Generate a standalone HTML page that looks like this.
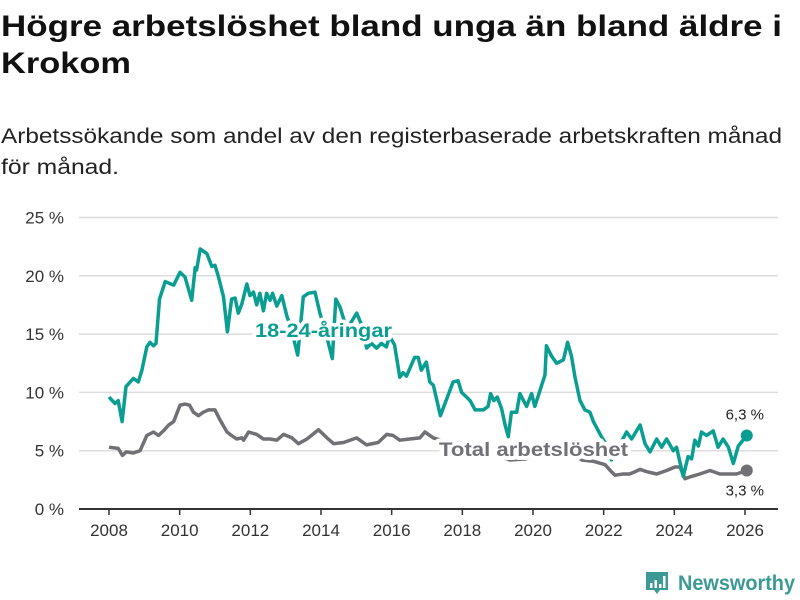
<!DOCTYPE html>
<html><head><meta charset="utf-8">
<style>
html,body{margin:0;padding:0;background:#fff;}
svg{display:block;font-family:"Liberation Sans",sans-serif;}
</style></head>
<body>
<svg id="chart" width="800" height="600" viewBox="0 0 800 600">
  <text x="1" y="36" font-size="30" font-weight="bold" fill="#111" textLength="781" lengthAdjust="spacingAndGlyphs">Högre arbetslöshet bland unga än bland äldre i</text>
  <text x="1" y="73" font-size="30" font-weight="bold" fill="#111" textLength="130" lengthAdjust="spacingAndGlyphs">Krokom</text>
  <text x="1" y="143" font-size="21" fill="#222" textLength="781" lengthAdjust="spacingAndGlyphs">Arbetssökande som andel av den registerbaserade arbetskraften månad</text>
  <text x="1" y="174" font-size="21" fill="#222" textLength="118" lengthAdjust="spacingAndGlyphs">för månad.</text>
  <g id="grid"></g>
  <g id="yticks"></g>
  <g id="xticks"></g>
  <g id="series"></g>
  <g>
    <path d="M646 572 h22 v18 h-8 l-3 4 l-3 -4 h-8 z" fill="#3b9a94"/>
    <rect x="650" y="583" width="2.5" height="5" fill="#fff"/>
    <rect x="654.5" y="580" width="2.5" height="8" fill="#fff"/>
    <rect x="659" y="584" width="2.5" height="4" fill="#fff"/>
    <rect x="663" y="576" width="2.5" height="12" fill="#fff"/>
    <text x="678" y="590" font-size="21" font-weight="bold" fill="#3b9a94" textLength="117" lengthAdjust="spacingAndGlyphs">Newsworthy</text>
  </g>
</svg>
<script>
const yTicks=[0,5,10,15,20,25];
const yTickLabels=["0 %","5 %","10 %","15 %","20 %","25 %"];
const xTicks=[2008,2010,2012,2014,2016,2018,2020,2022,2024,2026];
const youthDates=[2008.0,2008.17,2008.26,2008.37,2008.48,2008.69,2008.83,2008.93,2009.07,2009.16,2009.26,2009.33,2009.43,2009.59,2009.83,2010.01,2010.15,2010.34,2010.44,2010.48,2010.58,2010.77,2010.91,2011.0,2011.1,2011.24,2011.35,2011.47,2011.57,2011.66,2011.76,2011.9,2011.99,2012.09,2012.18,2012.27,2012.37,2012.46,2012.56,2012.63,2012.75,2012.89,2013.03,2013.17,2013.34,2013.5,2013.64,2013.83,2013.97,2014.11,2014.32,2014.42,2014.54,2014.73,2015.01,2015.15,2015.29,2015.43,2015.57,2015.71,2015.85,2015.94,2016.08,2016.23,2016.32,2016.42,2016.65,2016.75,2016.84,2016.98,2017.08,2017.18,2017.38,2017.74,2017.88,2017.98,2018.12,2018.22,2018.36,2018.59,2018.73,2018.8,2018.89,2018.99,2019.11,2019.21,2019.3,2019.39,2019.54,2019.63,2019.82,2019.96,2020.05,2020.2,2020.34,2020.38,2020.53,2020.67,2020.86,2020.98,2021.09,2021.19,2021.33,2021.47,2021.61,2021.71,2021.94,2022.08,2022.22,2022.45,2022.65,2022.79,2023.03,2023.17,2023.31,2023.5,2023.64,2023.78,2023.97,2024.06,2024.25,2024.39,2024.49,2024.58,2024.68,2024.77,2024.91,2025.1,2025.24,2025.38,2025.53,2025.67,2025.81,2026.05];
const youthValues=[9.6,9.05,9.3,7.5,10.5,11.2,10.9,11.9,13.9,14.3,14.0,14.2,18.0,19.5,19.2,20.3,19.9,17.9,20.7,20.5,22.3,21.9,20.8,20.9,19.9,18.2,15.2,18.0,18.1,16.8,17.6,19.3,18.3,18.6,17.5,18.5,17.0,18.5,17.9,18.5,17.4,18.3,16.6,15.3,13.2,18.2,18.5,18.6,16.8,15.4,12.9,18.0,17.3,15.4,16.8,15.8,13.8,14.2,13.8,14.2,13.9,14.8,14.1,11.3,11.7,11.4,13.0,13.0,11.9,12.6,10.9,10.6,8.0,10.9,11.0,10.0,9.6,9.3,8.5,8.5,8.8,9.9,9.3,9.6,8.6,7.2,6.2,8.3,8.3,9.9,8.8,9.9,8.8,10.2,11.5,14.0,13.1,12.5,12.8,14.3,13.1,11.3,9.3,8.5,8.3,7.5,6.2,5.5,4.2,5.5,6.6,6.0,7.2,5.6,4.9,6.0,5.3,6.0,5.0,5.3,2.8,4.5,4.3,5.9,5.4,6.6,6.3,6.7,5.3,6.0,5.3,3.9,5.4,6.3];
const totalDates=[2008.0,2008.26,2008.38,2008.49,2008.69,2008.88,2009.07,2009.26,2009.4,2009.54,2009.69,2009.83,2010.01,2010.15,2010.28,2010.39,2010.53,2010.67,2010.82,2011.0,2011.15,2011.34,2011.47,2011.61,2011.76,2011.81,2011.95,2012.18,2012.37,2012.56,2012.75,2012.94,2013.18,2013.36,2013.6,2013.93,2014.17,2014.36,2014.64,2015.01,2015.29,2015.62,2015.86,2016.04,2016.23,2016.51,2016.8,2016.94,2017.18,2017.5,2018.0,2018.5,2019.0,2019.35,2019.8,2020.3,2020.8,2021.1,2021.38,2021.7,2022.04,2022.22,2022.32,2022.55,2022.74,2023.03,2023.22,2023.5,2023.78,2024.02,2024.16,2024.3,2024.49,2024.72,2025.01,2025.29,2025.57,2025.76,2026.05];
const totalValues=[5.3,5.2,4.6,4.9,4.8,5.0,6.3,6.6,6.3,6.7,7.2,7.5,8.9,9.0,8.9,8.3,8.0,8.3,8.5,8.5,7.6,6.6,6.3,6.0,6.1,5.9,6.6,6.4,6.0,6.0,5.9,6.4,6.1,5.6,6.0,6.8,6.1,5.6,5.7,6.1,5.5,5.7,6.4,6.3,5.9,6.0,6.1,6.6,6.1,5.8,5.6,5.2,4.6,4.2,4.3,5.0,5.2,4.8,4.2,4.1,3.8,3.2,2.9,3.0,3.0,3.4,3.2,3.0,3.3,3.6,3.6,2.6,2.8,3.0,3.3,3.0,3.0,3.0,3.3];

const NS="http://www.w3.org/2000/svg";
function xScale(t){return 109+(t-2008)*(745-109)/18;}
function yScale(v){return 509-v*(509-217.5)/25;}
function mk(tag,attrs,parent){const e=document.createElementNS(NS,tag);for(const k in attrs)e.setAttribute(k,attrs[k]);parent.appendChild(e);return e;}
const grid=document.getElementById('grid'),yt=document.getElementById('yticks'),xt=document.getElementById('xticks'),ser=document.getElementById('series');
yTicks.forEach((v,i)=>{
  if(v>0){const l=mk('line',{x1:79,x2:778,y1:yScale(v),y2:yScale(v),stroke:'#ddd','stroke-width':1.5},grid);
  
  }
  const t=mk('text',{x:64,y:yScale(v)+6,'text-anchor':'end','font-size':17,fill:'#333'},yt);
  t.textContent=yTickLabels[i];
  
  
});
const ax=mk('line',{x1:79,x2:778,y1:509,y2:509,stroke:'#333','stroke-width':2},xt);


xTicks.forEach(y=>{
  const tk=mk('line',{x1:xScale(y),x2:xScale(y),y1:509,y2:515,stroke:'#333','stroke-width':1.5},xt);
  
  
  const t=mk('text',{x:xScale(y),y:536,'text-anchor':'middle','font-size':17,fill:'#333'},xt);
  t.textContent=String(y);
  
  
});
function pathD(d,v){return d.map((t,i)=>(i?'L':'M')+xScale(t).toFixed(1)+' '+yScale(v[i]).toFixed(1)).join(' ');}
const pt=mk('path',{d:pathD(totalDates,totalValues),fill:'none',stroke:'#707075','stroke-width':3.5,'stroke-linejoin':'round'},ser);


const py=mk('path',{d:pathD(youthDates,youthValues),fill:'none',stroke:'#0a9e92','stroke-width':3.5,'stroke-linejoin':'round'},ser);


const lt=totalDates.length-1, ly=youthDates.length-1;
const dt=mk('circle',{cx:xScale(totalDates[lt]),cy:yScale(totalValues[lt]),r:6,fill:'#707075'},ser);


const dy=mk('circle',{cx:xScale(youthDates[ly]),cy:yScale(youthValues[ly]),r:6,fill:'#0a9e92'},ser);


const v1=mk('text',{x:xScale(youthDates[ly])-2,y:yScale(youthValues[ly])-16,'text-anchor':'middle','font-size':15,fill:'#222'},ser);
v1.textContent=youthValues[ly].toFixed(1).replace('.',',')+' %';


const v2=mk('text',{x:xScale(totalDates[lt])-2,y:yScale(totalValues[lt])+25,'text-anchor':'middle','font-size':15,fill:'#222'},ser);
v2.textContent=totalValues[lt].toFixed(1).replace('.',',')+' %';


const l1=mk('text',{x:255,y:337,'font-size':19,'font-weight':'bold',fill:'#0a9e92',stroke:'#fff','stroke-width':7,'paint-order':'stroke','stroke-linejoin':'round',textLength:137,lengthAdjust:'spacingAndGlyphs'},ser);
l1.textContent='18-24-åringar';


const l2=mk('text',{x:439,y:456,'font-size':19,'font-weight':'bold',fill:'#707075',stroke:'#fff','stroke-width':8,'paint-order':'stroke','stroke-linejoin':'round',textLength:189,lengthAdjust:'spacingAndGlyphs'},ser);
l2.textContent='Total arbetslöshet';


</script>
</body></html>
